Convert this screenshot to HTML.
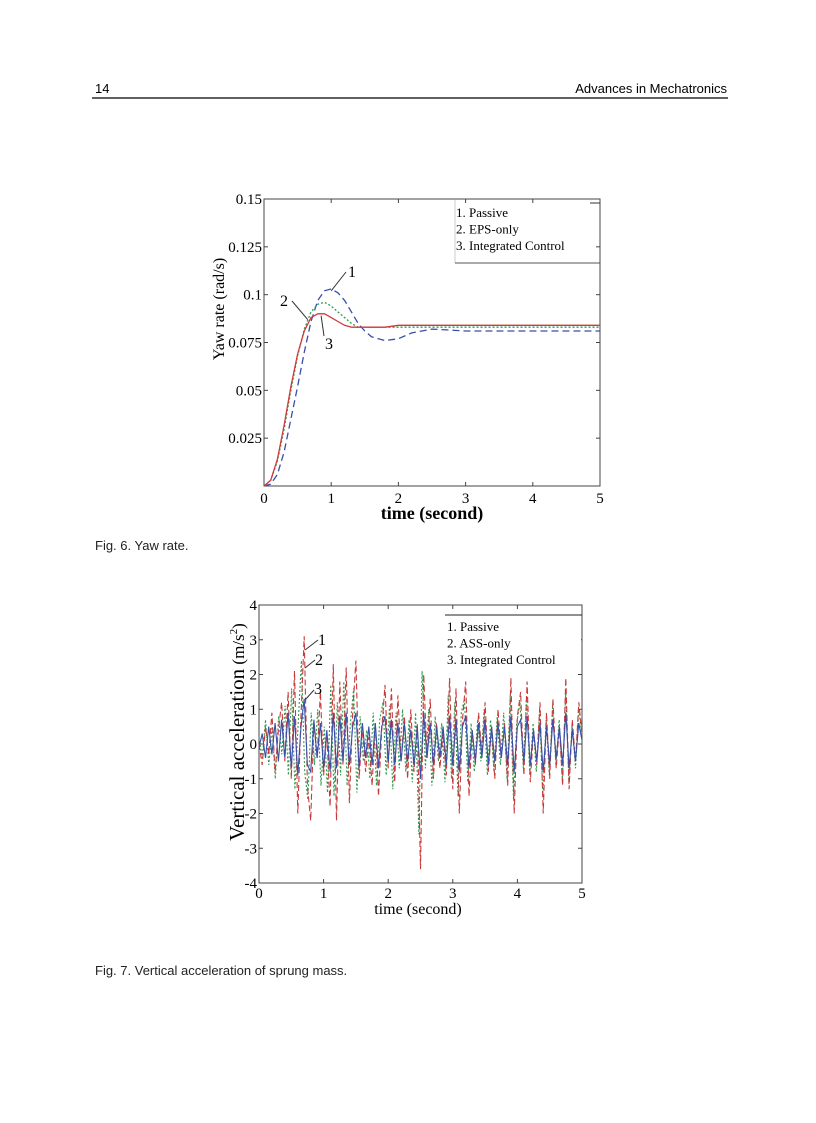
<!DOCTYPE html>
<html><head><meta charset="utf-8"><style>
body{margin:0;background:#fff;}
svg{display:block;}
.s{font-family:"Liberation Serif",serif;}
.a{font-family:"Liberation Sans",sans-serif;}
</style></head><body>
<svg id="pg" width="816" height="1123" xmlns="http://www.w3.org/2000/svg">
<text class="a" x="95" y="93" font-size="13">14</text>
<text class="a" x="727" y="93" font-size="13" text-anchor="end">Advances in Mechatronics</text>
<line x1="92" y1="98" x2="728" y2="98" stroke="#000" stroke-width="1.2"/>
<text class="a" x="95" y="550" font-size="13" fill="#222">Fig. 6. Yaw rate.</text>
<text class="a" x="95" y="975" font-size="13" fill="#222">Fig. 7. Vertical acceleration of sprung mass.</text>
<g id="c1"></g>
<g id="c2"></g>
</svg>
<script>
const yawT=[0,0.1,0.2,0.3,0.4,0.5,0.6,0.7,0.8,0.9,1.0,1.1,1.2,1.3,1.4,1.5,1.6,1.8,2.0,2.2,2.5,3,3.5,4,4.5,5];
const yawPassive=[0,0.001,0.006,0.018,0.035,0.052,0.070,0.086,0.097,0.102,0.103,0.101,0.097,0.091,0.085,0.081,0.078,0.076,0.077,0.080,0.082,0.081,0.081,0.081,0.081,0.081];
const yawEPS=[0,0.003,0.013,0.030,0.050,0.068,0.082,0.091,0.095,0.096,0.094,0.091,0.088,0.085,0.083,0.083,0.083,0.083,0.083,0.083,0.083,0.083,0.083,0.083,0.083,0.083];
const yawInt=[0,0.003,0.014,0.032,0.052,0.069,0.081,0.088,0.090,0.090,0.088,0.086,0.084,0.083,0.083,0.083,0.083,0.083,0.084,0.084,0.084,0.084,0.084,0.084,0.084,0.084];
const yawYTicks=[0.025,0.05,0.075,0.1,0.125,0.15];
const yawYLabels=["0.025","0.05","0.075","0.1","0.125","0.15"];
const xTicks=[0,1,2,3,4,5];
const accPassive=[0,-0.6,0.5,-0.3,0.9,-0.8,0.4,1.2,-0.5,1.5,-1.0,2.1,-2.0,0.8,3.1,-1.2,-2.2,0.6,-0.4,1.5,-0.9,0.3,-1.8,2.3,-2.2,1.8,-0.6,2.2,-1.7,0.9,2.4,-1.0,0.5,-0.8,0.2,-1.2,0.6,-1.5,0.4,1.7,-0.7,1.6,-1.1,1.4,-0.5,0.8,-1.0,1.0,-0.8,0.6,-3.6,2.0,-0.4,1.3,-1.0,0.6,-0.7,0.3,-0.9,1.9,-1.3,1.6,-2.0,0.7,1.8,-1.5,0.4,-0.6,0.9,-0.3,1.2,-0.8,0.5,-1.0,1.0,-0.4,0.6,-1.2,1.9,-2.0,0.8,1.5,-0.9,1.8,-1.1,0.4,-0.6,1.2,-2.0,0.9,-1.0,1.3,-0.7,0.5,-1.2,1.9,-1.3,0.7,-0.5,1.2,0.3];
const accASS=[0.2,-0.4,0.7,-0.6,0.5,-1.0,0.8,-0.3,1.1,-0.9,1.6,-1.3,0.6,2.4,-0.8,-1.6,0.9,-0.6,1.0,-1.2,0.5,-1.4,1.7,-1.5,1.2,-0.9,1.8,-1.2,0.6,1.6,-1.4,0.8,-0.5,0.4,-1.0,0.9,-1.2,0.7,1.2,-0.9,1.1,-1.3,0.9,-0.7,1.0,-0.8,0.7,-1.1,0.9,-2.6,2.1,-0.7,1.0,-1.2,0.8,-0.5,0.6,-1.1,1.4,-1.0,1.2,-1.5,0.9,1.3,-1.1,0.6,-0.8,0.7,-0.5,1.0,-0.9,0.7,-0.8,0.8,-0.6,0.9,-1.0,1.4,-1.6,0.6,1.2,-0.7,1.4,-0.9,0.6,-0.8,1.0,-1.5,0.7,-0.9,1.1,-0.6,0.7,-1.0,1.5,-1.1,0.6,-0.7,1.0,0.2];
const accInt=[-0.1,0.3,-0.4,0.5,-0.3,0.6,-0.5,0.7,-0.4,0.9,-0.7,0.8,-0.9,0.5,1.3,-0.6,-0.8,0.7,-0.4,0.6,-0.7,0.4,-0.8,0.9,-0.7,0.8,-0.5,0.9,-0.6,0.5,0.9,-0.7,0.6,-0.4,0.5,-0.6,0.6,-0.7,0.5,0.8,-0.5,0.7,-0.6,0.6,-0.5,0.6,-0.5,0.4,-0.6,0.5,-1.0,0.9,-0.4,0.6,-0.6,0.5,-0.4,0.5,-0.6,0.8,-0.6,0.7,-0.8,0.5,0.8,-0.7,0.4,-0.5,0.6,-0.4,0.7,-0.6,0.5,-0.5,0.6,-0.4,0.5,-0.6,0.8,-0.8,0.5,0.7,-0.5,0.8,-0.6,0.4,-0.5,0.6,-0.8,0.5,-0.6,0.7,-0.4,0.5,-0.6,0.9,-0.7,0.4,-0.5,0.6,0.1];
const accYTicks=[-4,-3,-2,-1,0,1,2,3,4];
const NS="http://www.w3.org/2000/svg";
function mk(p,tag,at,txt){const e=document.createElementNS(NS,tag);for(const k in at)e.setAttribute(k,at[k]);if(txt!==undefined)e.textContent=txt;p.appendChild(e);return e;}
function pathD(xs,ys,fx,fy){return xs.map((x,i)=>(i?'L':'M')+fx(x).toFixed(1)+' '+fy(ys[i]).toFixed(1)).join(' ');}

// Chart 1
(function(){
const g=document.getElementById('c1');
const L=264,R=600,T=199,B=486;
const fx=t=>L+(t/5)*(R-L), fy=v=>B-(v/0.15)*(B-T);
const fr=mk(g,'rect',{x:L,y:T,width:R-L,height:B-T,fill:'#fff',stroke:'#444','stroke-width':1});

xTicks.forEach(t=>{mk(g,'line',{x1:fx(t),y1:B,x2:fx(t),y2:B-4,stroke:'#444'});mk(g,'line',{x1:fx(t),y1:T,x2:fx(t),y2:T+4,stroke:'#444'});
const l=mk(g,'text',{class:'s',x:fx(t),y:B+17,'font-size':15,'text-anchor':'middle'},String(t));});
yawYTicks.forEach((v,i)=>{mk(g,'line',{x1:L,y1:fy(v),x2:L+4,y2:fy(v),stroke:'#444'});mk(g,'line',{x1:R,y1:fy(v),x2:R-4,y2:fy(v),stroke:'#444'});
const l=mk(g,'text',{class:'s',x:L-2,y:fy(v)+5,'font-size':15,'text-anchor':'end'},yawYLabels[i]);});
const series=[[yawPassive,'#3a4fa8','7,4','yaw-line-passive'],[yawEPS,'#2f9a50','2,2','yaw-line-eps-only'],[yawInt,'#d03a3a','','yaw-line-integrated']];
series.forEach(s=>{const p=mk(g,'path',{d:pathD(yawT,s[0],fx,fy),fill:'none',stroke:s[1],'stroke-width':1.3,'stroke-dasharray':s[2]});});
mk(g,'line',{x1:fx(1.0),y1:fy(0.102),x2:346,y2:272,stroke:'#333'});
mk(g,'text',{class:'s',x:348,y:277,'font-size':16},'1');
mk(g,'line',{x1:292,y1:301,x2:fx(0.65),y2:fy(0.087),stroke:'#333'});
mk(g,'text',{class:'s',x:280,y:306,'font-size':16},'2');
mk(g,'line',{x1:fx(0.85),y1:fy(0.089),x2:324,y2:336,stroke:'#333'});
mk(g,'text',{class:'s',x:325,y:349,'font-size':16},'3');
const lg=mk(g,'g',{});
mk(lg,'line',{x1:455,y1:200,x2:455,y2:263,stroke:'#ccc'});
mk(lg,'line',{x1:455,y1:263,x2:600,y2:263,stroke:'#555'});
mk(lg,'line',{x1:590,y1:203,x2:600,y2:203,stroke:'#333'});
['1. Passive','2. EPS-only','3. Integrated Control'].forEach((s,i)=>mk(lg,'text',{class:'s',x:456,y:217+i*16.5,'font-size':13},s));
const xt=mk(g,'text',{class:'s',x:432,y:519,'font-size':18,'font-weight':'bold','text-anchor':'middle'},'time (second)');
const yt=mk(g,'text',{class:'s',x:0,y:0,'font-size':16,'text-anchor':'middle',transform:'translate(224,309) rotate(-90)'},'Yaw rate (rad/s)');
})();

// Chart 2
(function(){
const g=document.getElementById('c2');
const L=259,R=582,T=605,B=883;
const fx=t=>L+(t/5)*(R-L), fy=v=>B-((v+4)/8)*(B-T);
const fr=mk(g,'rect',{x:L,y:T,width:R-L,height:B-T,fill:'#fff',stroke:'#444','stroke-width':1});

xTicks.forEach(t=>{mk(g,'line',{x1:fx(t),y1:B,x2:fx(t),y2:B-4,stroke:'#444'});mk(g,'line',{x1:fx(t),y1:T,x2:fx(t),y2:T+4,stroke:'#444'});
const l=mk(g,'text',{class:'s',x:fx(t),y:B+15,'font-size':15,'text-anchor':'middle'},String(t));});
accYTicks.forEach(v=>{mk(g,'line',{x1:L,y1:fy(v),x2:L+4,y2:fy(v),stroke:'#444'});mk(g,'line',{x1:R,y1:fy(v),x2:R-4,y2:fy(v),stroke:'#444'});
const l=mk(g,'text',{class:'s',x:L-2,y:fy(v)+5,'font-size':15,'text-anchor':'end'},String(v));});
const tOf=(arr)=>arr.map((_,i)=>i*5/(arr.length-1));
const series=[[accASS,'#2f9a50','2,2','accel-line-ass-only'],[accPassive,'#c83a3a','6,3','accel-line-passive'],[accInt,'#3a4fa8','','accel-line-integrated']];
series.forEach(s=>{const p=mk(g,'path',{d:pathD(tOf(s[0]),s[0],fx,fy),fill:'none',stroke:s[1],'stroke-width':1.1,'stroke-dasharray':s[2]});});
mk(g,'line',{x1:305,y1:650,x2:318,y2:640,stroke:'#333'});
mk(g,'text',{class:'s',x:318,y:645,'font-size':16},'1');
mk(g,'line',{x1:305,y1:668,x2:315,y2:660,stroke:'#333'});
mk(g,'text',{class:'s',x:315,y:665,'font-size':16},'2');
mk(g,'line',{x1:305,y1:700,x2:314,y2:690,stroke:'#333'});
mk(g,'text',{class:'s',x:314,y:694,'font-size':16},'3');
const lg=mk(g,'g',{});
mk(lg,'rect',{x:445,y:616,width:136,height:54,fill:'#fff'});
mk(lg,'line',{x1:445,y1:615,x2:582,y2:615,stroke:'#222'});
['1. Passive','2. ASS-only','3. Integrated Control'].forEach((s,i)=>mk(lg,'text',{class:'s',x:447,y:631+i*16.5,'font-size':13},s));
const xt=mk(g,'text',{class:'s',x:418,y:914,'font-size':16,'text-anchor':'middle'},'time (second)');
const yt=mk(g,'text',{class:'s',x:0,y:0,'font-size':21,'text-anchor':'middle',transform:'translate(244,732) rotate(-90)'});
mk(yt,'tspan',{},'Vertical acceleration');mk(yt,'tspan',{'font-size':17},' (m/s');mk(yt,'tspan',{'font-size':11,dy:-7},'2');mk(yt,'tspan',{'font-size':17,dy:7},')');
})();
</script>
</body></html>
